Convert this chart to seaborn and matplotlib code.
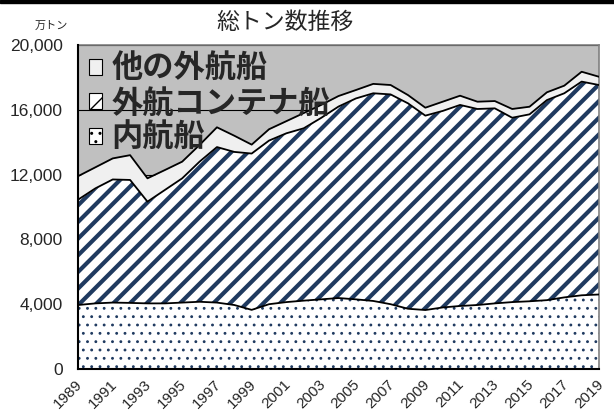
import numpy as np
import pandas as pd
import matplotlib
matplotlib.use("Agg")
import matplotlib.pyplot as plt
import matplotlib.transforms as mtrans
from matplotlib.patches import Patch, Rectangle
from matplotlib.ticker import FuncFormatter
import seaborn as sns

# données (万トン)
years = list(range(1989, 2020))
naikou = [3950, 4050, 4100, 4080, 4050, 4050, 4100, 4150, 4100, 3950, 3650, 4000, 4130, 4220, 4300, 4380,
          4300, 4200, 4000, 3720, 3640, 3800, 3890, 3950, 4050, 4130, 4180, 4250, 4420, 4550, 4600]
container = [6500, 7100, 7600, 7590, 6280, 7000, 7670, 8650, 9600, 9450, 9650, 10100, 10420, 10640, 11200, 11820,
             12400, 12820, 12950, 12680, 12000, 12130, 12410, 12100, 12040, 11380, 11540, 12350, 12600, 13190, 12930]
other = [1450, 1300, 1300, 1530, 1440, 1230, 1030, 1030, 1220, 1000, 550, 700, 750, 940, 800, 650,
         520, 580, 580, 510, 490, 570, 570, 450, 450, 540, 470, 480, 470, 610, 510]
labels = ["内航船", "外航コンテナ船", "他の外航船"]
yticks = [0, 4000, 8000, 12000, 16000, 20000]
xtick_years = list(range(1989, 2020, 2))

df = pd.DataFrame({"year": years, "naikou": naikou, "container": container, "other": other})
df["lvl1"] = df["naikou"]
df["lvl2"] = df["lvl1"] + df["container"]
df["lvl3"] = df["lvl2"] + df["other"]

sns.set_theme(style="white")
plt.rcParams["font.family"] = ["Liberation Sans", "Noto Sans CJK JP"]

navy = "#1F3A60"
fig = plt.figure(figsize=(6.14, 4.16), dpi=100)
ax = fig.add_axes([78 / 614, 47 / 416, 521 / 614, 324 / 416])
ax.set_facecolor("#C0C0C0")

# quadrillage sous les aires, graduations au-dessus
for v in yticks:
    ax.axhline(v, color="black", lw=0.8, zorder=1)

# aires empilées
dots = ax.fill_between(df["year"], 0, df["lvl1"], facecolor="white", edgecolor=navy, hatch="..", lw=0, zorder=2)
stripes = ax.fill_between(df["year"], df["lvl1"], df["lvl2"], facecolor="white", edgecolor=navy, hatch="//", lw=0, zorder=2)
dots.set_hatch_linewidth(0.85)
stripes.set_hatch_linewidth(3.0)
ax.fill_between(df["year"], df["lvl2"], df["lvl3"], facecolor="#F0F0F0", lw=0, zorder=2)

for col in ["lvl1", "lvl2", "lvl3"]:
    sns.lineplot(data=df, x="year", y=col, ax=ax, color="black", lw=1.3, zorder=3)

ax.set_xlim(1989, 2019)
ax.set_ylim(0, 20000)
ax.set_yticks(yticks)
ax.yaxis.set_major_formatter(FuncFormatter(lambda v, p: f"{int(v):,}"))
ax.set_xticks(years)
ax.set_xticklabels([str(y) if y in xtick_years else "" for y in years], rotation=45, ha="center")
ax.tick_params(axis="x", direction="in", length=4, width=1, color="black", labelsize=11, pad=6)
ax.tick_params(axis="y", length=0, labelsize=12.5, pad=11)
# décalage des étiquettes après tick_params (sinon réinitialisé)
off = mtrans.ScaledTranslation(-10 / 100, 0, fig.dpi_scale_trans)
for t in ax.get_xticklabels():
    t.set_transform(t.get_transform() + off)
ax.set_xlabel("")
ax.set_ylabel("")

for s in ["left", "bottom"]:
    ax.spines[s].set_color("black")
    ax.spines[s].set_linewidth(1.5)
    ax.spines[s].set_zorder(4)
for s in ["top", "right"]:
    ax.spines[s].set_color("#808080")
    ax.spines[s].set_linewidth(1.2)

handles = [
    Patch(facecolor="#F0F0F0", edgecolor="black", lw=0.8),
    Patch(facecolor="white", edgecolor="black", hatch="//", lw=0.8),
    Patch(facecolor="white", edgecolor="black", hatch="..", lw=0.8),
]
leg = ax.legend(handles, labels[::-1], loc="upper left", bbox_to_anchor=(0.01, 0.995), frameon=False,
                prop={"family": ["Noto Sans CJK JP"], "weight": "bold", "size": 22.5},
                handlelength=0.4, handleheight=0.4, handletextpad=0.3, labelspacing=0.08,
                borderaxespad=0.1, borderpad=0.1)
for h in leg.legend_handles:
    h.set_edgecolor("black")

fig.text(285 / 614, 1 - 22 / 416, "総トン数推移", ha="center", va="center", fontsize=16.5,
         family=["Noto Sans CJK JP"])
fig.text(51 / 614, 1 - 26 / 416, "万トン", ha="center", va="center", fontsize=8,
         family=["Noto Sans CJK JP"])
fig.patches.append(Rectangle((0, 1 - 3 / 416), 1, 3 / 416, transform=fig.transFigure, color="black"))

fig.savefig("out.png", dpi=100)
